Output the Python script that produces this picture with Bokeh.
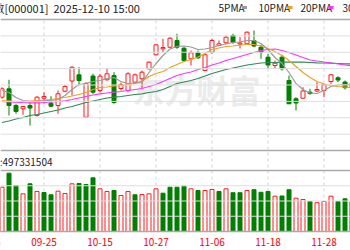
from bokeh.plotting import figure
from bokeh.models import Range1d, Span
from bokeh.core.properties import value
from bokeh.embed import file_html
from bokeh.resources import INLINE

# ---------------- data ----------------
dates = ["09-15", "09-16", "09-17", "09-18", "09-19", "09-22", "09-23", "09-24", "09-25", "09-26",
         "09-29", "09-30", "10-09", "10-10", "10-13", "10-14", "10-15", "10-16", "10-17", "10-20",
         "10-21", "10-22", "10-23", "10-24", "10-27", "10-28", "10-29", "10-30", "10-31", "11-03",
         "11-04", "11-05", "11-06", "11-07", "11-10", "11-11", "11-12", "11-13", "11-14", "11-17",
         "11-18", "11-19", "11-20", "11-21", "11-24", "11-25", "11-26", "11-27", "11-28", "12-01",
         "12-02", "12-03", "12-04", "12-05", "12-08", "12-09", "12-10"]
candle_dates = dates[2:53]

opens = [3839.9, 3865.1, 3815.0, 3805.1, 3815.0, 3785.0, 3836.9, 3821.9, 3815.0, 3857.9,
         3888.5, 3907.1, 3779.9, 3903.5, 3860.0, 3892.1, 3905.0, 3866.0, 3860.0, 3884.9,
         3895.1, 3925.1, 3967.1, 3985.1, 3989.9, 4010.0, 3986.9, 3955.1, 3973.1, 3920.0,
         3974.9, 3995.0, 4003.1, 4025.0, 3999.5, 4000.1, 4010.0, 3989.9, 3959.9, 3935.0,
         3959.9, 3890.0, 3835.1, 3836.9, 3854.9, 3858.5, 3860.0, 3887.0, 3898.1, 3885.5,
         3881.0]
highs = [3869.9, 3892.1, 3820.1, 3812.0, 3824.0, 3842.9, 3854.9, 3842.9, 3860.0, 3877.1,
         3932.0, 3929.9, 3884.9, 3910.1, 3909.5, 3926.9, 3914.9, 3884.0, 3914.9, 3911.0,
         3920.0, 3947.0, 4000.1, 4015.1, 4019.9, 4030.1, 3989.9, 3980.0, 3980.0, 3970.1,
         4015.1, 4010.0, 4025.0, 4030.1, 4019.9, 4037.0, 4040.0, 3997.1, 3970.1, 3950.0,
         3967.1, 3905.0, 3839.9, 3869.9, 3865.1, 3884.9, 3880.1, 3910.1, 3902.9, 3890.0,
         3887.0]
lows = [3835.1, 3785.0, 3790.1, 3787.1, 3755.0, 3782.0, 3820.1, 3809.9, 3790.1, 3854.9,
        3845.0, 3875.0, 3779.9, 3850.1, 3854.0, 3890.0, 3820.1, 3860.0, 3854.9, 3881.0,
        3865.1, 3923.0, 3965.0, 3974.9, 3986.9, 3985.1, 3947.0, 3935.0, 3955.1, 3917.9,
        3970.1, 3992.9, 4000.1, 4000.1, 3986.0, 3997.1, 3989.9, 3955.1, 3925.1, 3925.1,
        3920.0, 3820.1, 3800.0, 3835.1, 3847.1, 3855.5, 3839.9, 3880.1, 3884.9, 3863.0,
        3863.0]
closes = [3865.1, 3815.0, 3797.0, 3812.0, 3807.5, 3839.9, 3842.0, 3812.9, 3850.1, 3872.0,
          3929.9, 3890.0, 3881.0, 3854.9, 3902.9, 3910.1, 3824.0, 3878.0, 3910.1, 3907.1,
          3914.9, 3944.9, 3997.1, 3989.0, 4016.9, 3989.9, 3950.0, 3973.1, 3958.1, 3967.1,
          4010.0, 4000.1, 4019.9, 4004.9, 4002.5, 4034.9, 3993.5, 3974.9, 3936.5, 3941.9,
          3925.1, 3820.1, 3822.5, 3858.5, 3851.0, 3863.0, 3877.1, 3907.1, 3891.5, 3868.4,
          3869.0]
volumes = [7.26e8, 9.56e8, 7.54e8, 6.18e8, 7.82e8, 6.56e8, 6.39e8, 6.02e8, 6.61e8, 6.23e8,
           7.82e8, 7.87e8, 7.70e8, 8.80e8, 7.00e8, 6.56e8, 6.72e8, 5.90e8, 6.56e8, 6.02e8,
           6.07e8, 6.18e8, 7.00e8, 6.28e8, 7.26e8, 7.26e8, 7.43e8, 7.00e8, 6.72e8, 6.72e8,
           6.89e8, 6.56e8, 7.00e8, 6.36e8, 6.36e8, 6.72e8, 6.85e8, 6.43e8, 6.56e8, 5.79e8,
           5.82e8, 6.85e8, 5.46e8, 5.25e8, 4.92e8, 4.72e8, 4.92e8, 5.79e8, 4.92e8, 5.36e8,
           4.92e8]
vol_up = [1, 0, 0, 1, 0, 1, 0, 0, 1, 1,
          1, 0, 0, 0, 1, 1, 0, 1, 1, 0,
          1, 1, 1, 0, 0, 0, 0, 1, 0, 1,
          1, 0, 1, 0, 0, 1, 0, 0, 0, 1,
          0, 0, 1, 1, 0, 1, 1, 1, 0, 0,
          0]
ma5 = [3860, 3854, 3839, 3830, 3827, 3827, 3830, 3830, 3833, 3845,
       3863, 3878, 3881, 3887, 3890, 3896, 3899, 3887, 3881, 3882.5,
       3884, 3914, 3941, 3965, 3984.5, 3992, 3993.5, 3990.5, 3983, 3984.5,
       3989, 3995, 3999.5, 4004, 4005.5, 4010, 4010, 4001, 3983, 3959,
       3941, 3914, 3881, 3863, 3852.5, 3851, 3860, 3872, 3876.5, 3878,
       3878]
ma10 = [3830, 3828.5, 3827, 3827, 3828.5, 3830, 3831.5, 3833, 3836, 3839,
        3843.5, 3848, 3854, 3863, 3869, 3870.5, 3873.5, 3875, 3878, 3881,
        3888.5, 3902, 3911, 3917, 3929, 3938, 3947, 3953, 3960.5, 3971,
        3983, 3987.5, 3992, 3993.5, 3996.5, 3998, 3998, 3993.5, 3986, 3977,
        3965, 3950, 3932, 3914, 3899, 3887, 3879.5, 3875, 3872, 3870.5,
        3869]
ma20 = [3827, 3826.1, 3825.2, 3824, 3823.1, 3823.1, 3824, 3825.5, 3827, 3829.1,
        3833, 3837.5, 3842, 3846.5, 3850.1, 3852.5, 3854.9, 3857, 3860, 3863,
        3866, 3872, 3878, 3887, 3896, 3905, 3911, 3915.5, 3923, 3929,
        3936.5, 3942.5, 3950, 3956, 3962, 3968, 3974, 3980, 3983, 3984.5,
        3980, 3974, 3966.5, 3959, 3951.5, 3948.5, 3945.5, 3942.5, 3939.5, 3936.5,
        3933.5]
ma30 = [3764, 3768.5, 3774.5, 3779, 3785, 3788, 3792.5, 3797, 3801.5, 3807.5,
        3812, 3818, 3824, 3828.5, 3833, 3837.5, 3839.9, 3842, 3845, 3848,
        3850.1, 3854, 3857, 3863, 3872, 3881, 3885.5, 3890, 3896, 3903.5,
        3911, 3917, 3923, 3927.5, 3932, 3936.5, 3939.5, 3942.5, 3944, 3944,
        3944.9, 3944.9, 3944.9, 3944.9, 3944, 3943.1, 3942.5, 3941.9, 3941, 3940.1,
        3939.5]
tick_labels = ["09-15", "09-25", "10-15", "10-27", "11-06", "11-18", "11-28"]
title_name = "上证指数[000001]"
title_time = "2025-12-10 15:00"
last_volume = 497331504
ma_names = ["5PMA", "10PMA", "20PMA", "30PMA"]

# ---------------- layout helpers (pixel -> data) ----------------
W, H = 350, 250
def xd(px):
    return 2 + (px - 1.5) / 7.0
def yp(py):
    return 4130 - 3.0 * py
VPP = 1e9 / 61.0  # volume per pixel, zero at pixel row 231

RED = "#ff1a1a"
GREEN = "#007f00"
MA_COLORS = ["#9a9a9a", "#f0a020", "#ff33ff", "#2e8b57"]

p = figure(width=W, height=H, x_range=Range1d(xd(0), xd(W)), y_range=Range1d(yp(H), yp(0)),
           x_axis_type=None, y_axis_type=None, output_backend="svg", toolbar_location=None,
           min_border=0, min_border_left=0, min_border_right=0, min_border_top=0, min_border_bottom=0)
p.outline_line_color = None
p.background_fill_color = "white"
p.border_fill_color = "white"
p.extra_y_ranges = {"vol": Range1d(-(H - 231) * VPP, 231 * VPP)}

# watermark
p.text(x=[xd(132)], y=[yp(88)], text=["东方财富"], text_font=value("Noto Sans CJK SC"),
       text_font_size="32px", text_font_style="bold", text_color="#ebebeb",
       text_baseline="middle", text_align="left")

# horizontal grid lines
for j in range(9):
    py = 19 + 131.0 / 8 * j
    edge = j in (0, 8)
    p.add_layout(Span(location=yp(py), dimension="width",
                      line_color="#aaaaaa" if edge else "#dedede", line_width=1.6 if edge else 1))
for j in range(5):
    edge = j in (0, 4)
    p.add_layout(Span(location=1e9 * j / 4, dimension="width", y_range_name="vol",
                      line_color="#aaaaaa" if edge else "#dedede", line_width=1.6 if edge else 1))

# vertical dashed grid lines at tick dates
tick_x = [dates.index(t) for t in tick_labels]
p.segment(x0=tick_x, y0=[yp(20)] * len(tick_x), x1=tick_x, y1=[yp(231)] * len(tick_x),
          line_color="#d4d4d4", line_width=1, line_dash="3 3")

# candles
xs = [dates.index(d) for d in candle_dates]
up = [c >= o for o, c in zip(opens, closes)]
ccol = [RED if u else GREEN for u in up]
cfill = ["white" if u else GREEN for u in up]
p.segment(x0=xs, y0=highs, x1=xs, y1=lows, line_color=ccol, line_width=1)
p.vbar(x=xs, width=4 / 7.0, top=[max(o, c) for o, c in zip(opens, closes)],
       bottom=[min(o, c) for o, c in zip(opens, closes)], fill_color=cfill, line_color=ccol, line_width=1)

# moving averages
for ma, col in zip([ma30, ma20, ma10, ma5], MA_COLORS[::-1]):
    p.line(x=xs, y=ma, line_color=col, line_width=1.2)

# volume bars
vcol = [RED if u else GREEN for u in vol_up]
vfill = ["white" if u else GREEN for u in vol_up]
p.vbar(x=xs, width=4 / 7.0, top=volumes, bottom=0, y_range_name="vol",
       fill_color=vfill, line_color=vcol, line_width=1)

# texts
FONT = value("Noto Sans CJK SC")
p.text(x=[xd(48)], y=[yp(7)], text=[title_name], text_font=FONT, text_font_size="11px",
       text_color="#222222", text_baseline="middle", text_align="right")
p.text(x=[xd(53)], y=[yp(7)], text=[title_time], text_font=FONT, text_font_size="11px",
       text_color="#222222", text_baseline="middle", text_align="left")
leg_px = [218, 258, 300, 342]
sym_px = [244, 289.5, 330.5, 375]
p.text(x=[xd(v) for v in leg_px], y=[yp(7)] * 4, text=ma_names, text_font=FONT,
       text_font_size="10px", text_color="#222222", text_baseline="middle", text_align="left")
p.rect(x=[xd(v) for v in sym_px], y=[yp(7)] * 4, width=5, height=3, width_units="screen",
       height_units="screen", fill_color=MA_COLORS, line_color=None)
p.text(x=[xd(52)], y=[yp(160.5)], text=["成交量:" + str(last_volume)], text_font=FONT,
       text_font_size="10px", text_color="#222222", text_baseline="middle", text_align="right")
p.text(x=tick_x, y=[yp(241)] * len(tick_x), text=tick_labels, text_font=FONT,
       text_font_size="10px", text_color="#ff0000", text_baseline="middle", text_align="center")

open("out.html", "w").write(file_html(p, INLINE))
